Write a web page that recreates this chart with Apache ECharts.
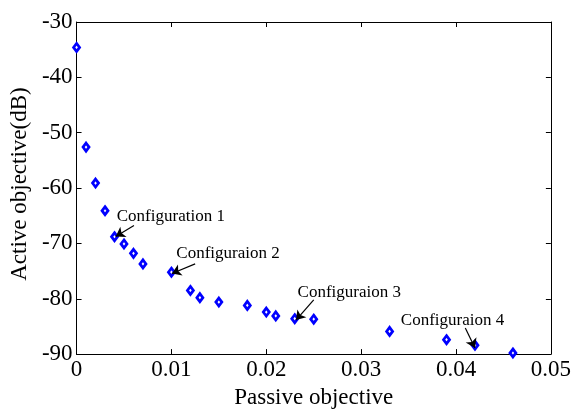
<!DOCTYPE html>
<html>
<head>
<meta charset="utf-8">
<script src="https://cdn.jsdelivr.net/npm/echarts@6/dist/echarts.min.js"></script>
<style>html,body{margin:0;padding:0;background:#fff}#c{width:574px;height:414px}</style>
</head>
<body>
<div id="c"></div>
<script>
const passive = [0, 0.001, 0.002, 0.003, 0.004, 0.005, 0.006, 0.007, 0.010, 0.012, 0.013, 0.015, 0.018, 0.020, 0.021, 0.023, 0.025, 0.033, 0.039, 0.042, 0.046];
const active = [-34.6, -52.6, -59.1, -64.1, -68.8, -70.1, -71.8, -73.7, -75.2, -78.5, -79.8, -80.6, -81.2, -82.4, -83.1, -83.6, -83.7, -85.9, -87.4, -88.4, -89.8];
const xTicks = [0, 0.01, 0.02, 0.03, 0.04, 0.05];
const yTicks = [-90, -80, -70, -60, -50, -40, -30];
const annoLabels = ['Configuration 1', 'Configuraion 2', 'Configuraion 3', 'Configuraion 4'];
const annoText = [[0.00424, -65.1], [0.01052, -71.9], [0.0233, -78.9], [0.03418, -83.9]];
const arrowFrom = [[0.00605, -66.75], [0.0125, -73.7], [0.0250, -80.2], [0.04098, -85.3]];
const arrowTo = [[0.00413, -68.75], [0.01006, -75.44], [0.02313, -83.86], [0.0420, -88.9]];

const FONT = '"Liberation Serif","Times New Roman",serif';
const chart = echarts.init(document.getElementById('c'));
const axisCommon = {
  axisLine: {show: true, onZero: false, lineStyle: {color: '#000', width: 1}},
  axisTick: {show: true, inside: true, length: 5, lineStyle: {color: '#000'}},
  splitLine: {show: false}
};
chart.setOption({
  animation: false,
  backgroundColor: '#fff',
  grid: {left: 75.6, right: 21, top: 22, bottom: 47},
  xAxis: [
    Object.assign({type: 'value', min: xTicks[0], max: xTicks[xTicks.length-1], interval: 0.01, position: 'bottom',
      name: 'Passive objective', nameLocation: 'middle', nameGap: 20,
      nameTextStyle: {fontFamily: FONT, fontSize: 23, color: '#000'},
      axisLabel: {fontFamily: FONT, fontSize: 23, color: '#000', margin: 4, formatter: v => String(+v.toFixed(2))}}, axisCommon),
    Object.assign({type: 'value', min: xTicks[0], max: xTicks[xTicks.length-1], interval: 0.01, position: 'top',
      axisLabel: {show: false}}, axisCommon)
  ],
  yAxis: [
    Object.assign({type: 'value', min: yTicks[0], max: yTicks[yTicks.length-1], interval: 10, position: 'left',
      name: 'Active objective(dB)', nameLocation: 'middle', nameGap: 40,
      nameTextStyle: {fontFamily: FONT, fontSize: 23, color: '#000', padding: [0, 0, 0, 8]},
      axisLabel: {fontFamily: FONT, fontSize: 23, color: '#000', margin: 4}}, axisCommon),
    Object.assign({type: 'value', min: yTicks[0], max: yTicks[yTicks.length-1], interval: 10, position: 'right',
      axisLabel: {show: false}}, axisCommon)
  ],
  series: [{
    type: 'scatter',
    clip: false,
    symbol: 'diamond',
    symbolSize: [6, 8],
    itemStyle: {color: '#fff', borderColor: '#0000ff', borderWidth: 2.8, opacity: 1},
    data: passive.map((x, i) => [x, active[i]]),
    markLine: {
      silent: true,
      symbol: ['none', 'arrow'],
      symbolSize: 9,
      label: {show: false},
      lineStyle: {color: '#000', width: 1.2, type: 'solid'},
      data: arrowFrom.map((p, i) => [{coord: p}, {coord: arrowTo[i]}])
    },
    markPoint: {
      silent: true,
      symbol: 'circle',
      symbolSize: 0,
      itemStyle: {color: 'transparent'},
      label: {show: true, position: 'right', distance: 0, fontFamily: FONT, fontSize: 17, color: '#000', formatter: p => p.name},
      data: annoText.map((p, i) => ({name: annoLabels[i], coord: p}))
    }
  }]
});
</script>
</body>
</html>
